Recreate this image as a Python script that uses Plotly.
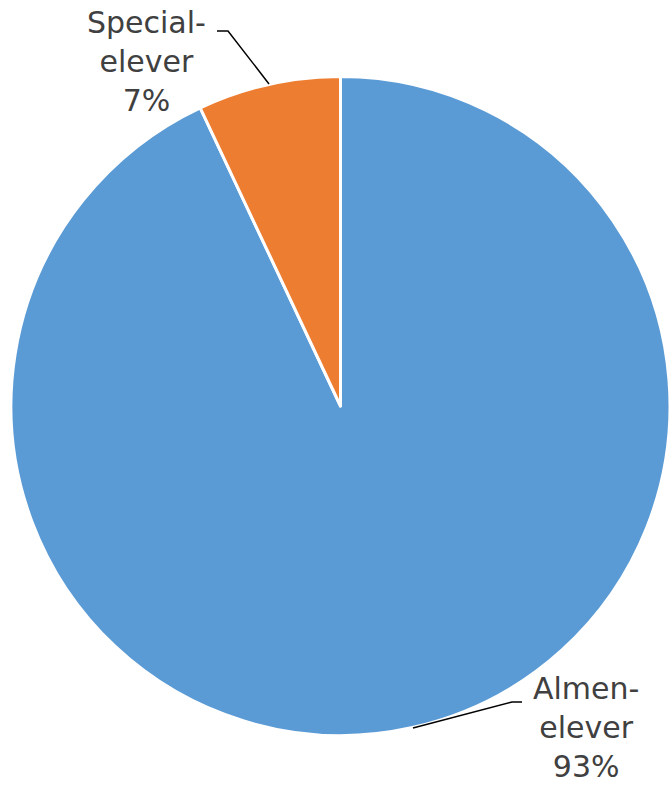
import math
import plotly.graph_objects as go

labels = ["Almen-elever", "Special-elever"]
values = [93, 7]
label_text = ["Almen-<br>elever<br>93%", "Special-<br>elever<br>7%"]
colors = ["#5B9BD5", "#ED7D31"]

W, H = 670, 787
CX, CY, R = 341, 406, 330
# label centres and elbow points (pixels)
label_pos = [(586, 727), (146, 61)]
elbows = [[(512, 702), (522, 702)], [(228, 31), (217, 31)]]


def px_x(x):
    return x / W


def px_y(y):
    return 1 - y / H


fig = go.Figure(go.Pie(
    labels=labels, values=values, sort=False, direction="clockwise", rotation=0,
    textinfo="none", marker=dict(colors=colors, line=dict(color="white", width=3)),
    domain=dict(x=[px_x(CX - R), min(1, px_x(CX + R))], y=[px_y(CY + R), px_y(CY - R)]),
    showlegend=False,
))

total = sum(values)
start = 0.0
shapes = []
annotations = []
for i, v in enumerate(values):
    mid = math.radians((start + v / 2) / total * 360)
    start += v
    ex, ey = CX + R * math.sin(mid), CY - R * math.cos(mid)
    pts = [(ex, ey)] + elbows[i]
    path = "M " + " L ".join(f"{px_x(x)},{px_y(y)}" for x, y in pts)
    shapes.append(dict(type="path", path=path, xref="paper", yref="paper",
                       line=dict(color="black", width=1.5)))
    lx, ly = label_pos[i]
    annotations.append(dict(text=label_text[i], x=px_x(lx), y=px_y(ly), xref="paper", yref="paper",
                            xanchor="center", yanchor="middle", align="center", showarrow=False,
                            font=dict(family="DejaVu Sans", size=30, color="#404040")))

fig.update_layout(
    width=W, height=H, margin=dict(l=0, r=0, t=0, b=0),
    paper_bgcolor="white", plot_bgcolor="white",
    shapes=shapes, annotations=annotations,
)
fig.write_html("out.html", config={"displayModeBar": False},
               post_script="document.body.style.margin='0';")
